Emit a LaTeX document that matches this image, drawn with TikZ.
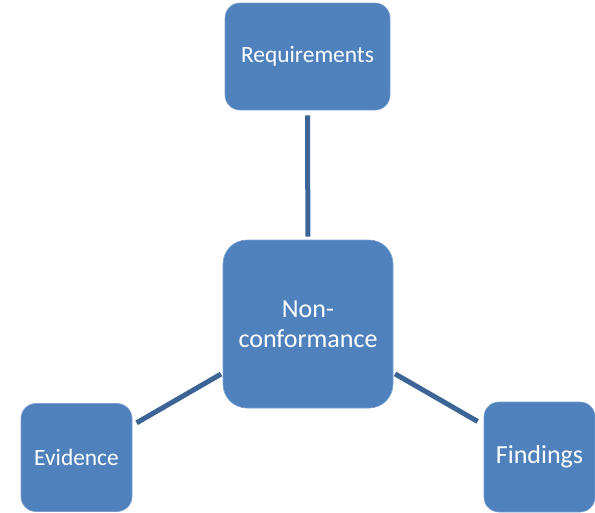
\documentclass[tikz,border=0pt]{standalone}
\usepackage{fontspec}
\setmainfont{Carlito}
\usepackage{xcolor}
\usepackage{tikz}
\definecolor{boxblue}{HTML}{4F81BD}
\definecolor{boxedge}{HTML}{7A9FD0}
\definecolor{linkblue}{HTML}{3C6596}
\tikzstyle{topic} = [rectangle, fill=boxblue, draw=boxedge, line width=0.6pt, text=white, align=center, inner sep=0pt]
\tikzstyle{link} = [line width=5pt, linkblue]

\begin{document}
\begin{tikzpicture}[x=1pt,y=-1pt]
	\useasboundingbox (0,0) rectangle (595,512);
	
	% The boxes:
	% one in the middle, three round it
	\node [topic, minimum width=170pt, minimum height=168pt, rounded corners=24pt, font=\fontsize{26}{30}\selectfont] (nc) at (308,324) {Non-\\conformance};
	\node [topic, minimum width=165pt, minimum height=107pt, rounded corners=15pt, font=\fontsize{23.4}{28}\selectfont] (req) at (307.5,56.5) {Requirements};
	\node [topic, minimum width=111pt, minimum height=108pt, rounded corners=15pt, font=\fontsize{23.4}{28}\selectfont] (evi) at (76.5,457.5) {Evidence};
	\node [topic, minimum width=111pt, minimum height=110pt, rounded corners=15pt, font=\fontsize{26}{30}\selectfont] (fin) at (539.5,457) {Findings};
	
	% Links:
	% straight lines that stop a little short of the boxes
	\draw [link, shorten <=5pt, shorten >=3pt] (req) -- (nc);
	\draw [link, shorten <=2pt, shorten >=5pt] (nc) -- (evi);
	\draw [link, shorten <=2pt, shorten >=7pt] (nc) -- (fin);
	
\end{tikzpicture}
\end{document}
